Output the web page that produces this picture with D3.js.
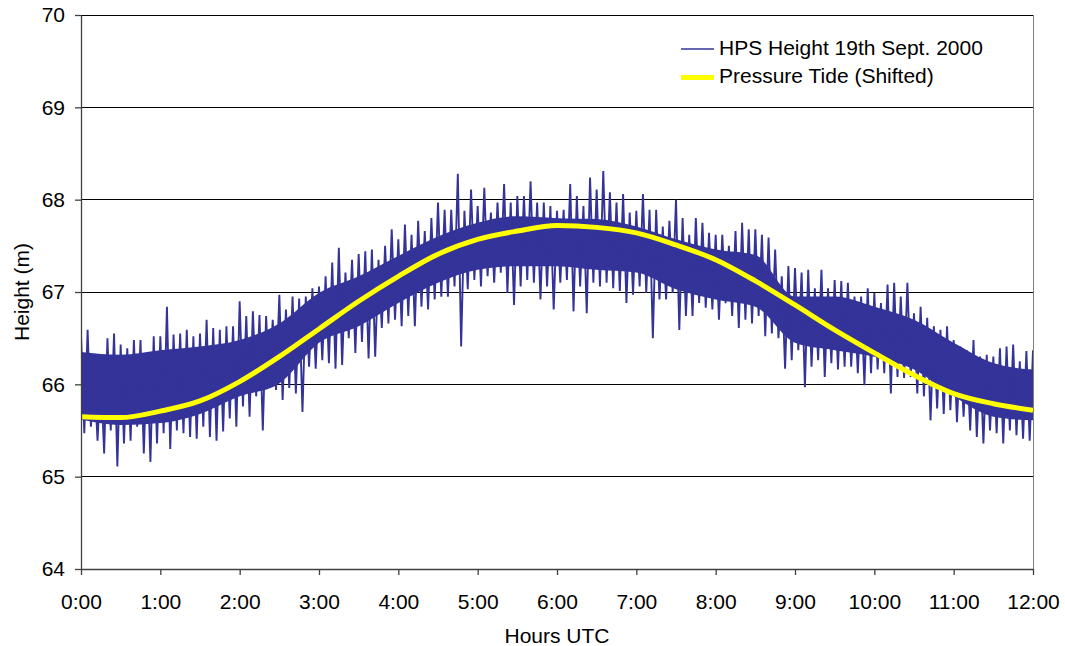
<!DOCTYPE html>
<html>
<head>
<meta charset="utf-8">
<script src="https://cdn.jsdelivr.net/npm/d3@7"></script>
<style>
  body { margin: 0; background: #fff; }
  svg { display: block; font-family: "Liberation Sans", Arial, sans-serif; }
</style>
</head>
<body>
<div id="chart"></div>
<script>
// HPS height trace: highest / lowest reading in each 5 minute slot, 0:00 .. 12:00
const hpsStep = 5;
const hpsHigh = [
  66.54, 66.59, 66.14, 66.14, 66.50, 66.55, 66.43, 66.39, 66.48, 66.48, 66.34, 66.52,
  66.52, 66.84, 66.54, 66.55, 66.59, 66.52, 66.55, 66.70, 66.61, 66.59, 66.63, 66.63,
  66.90, 66.74, 66.79, 66.75, 66.74, 66.70, 66.97, 66.81, 66.95, 66.93, 66.95, 67.04,
  67.06, 67.17, 67.32, 67.48, 67.21, 67.35, 67.41, 67.44, 67.46, 67.35, 67.50, 67.68,
  67.57, 67.73, 67.62, 67.77, 67.66, 67.80, 67.97, 67.89, 67.89, 68.28, 67.88, 68.11,
  67.93, 68.13, 67.86, 67.97, 68.17, 67.97, 68.04, 68.04, 68.20, 67.97, 67.97, 67.93,
  67.88, 67.89, 68.17, 68.04, 67.93, 68.24, 68.11, 68.31, 68.08, 67.97, 68.06, 67.86,
  67.88, 68.06, 67.89, 67.89, 67.71, 67.77, 68.00, 67.80, 67.62, 67.80, 67.75, 67.64,
  67.62, 67.62, 67.50, 67.66, 67.75, 67.68, 67.68, 67.62, 67.59, 67.46, 67.17, 67.28,
  67.26, 67.21, 67.24, 67.04, 67.24, 67.04, 67.13, 67.12, 67.10, 66.95, 66.95, 67.04,
  66.99, 66.88, 67.08, 67.10, 66.95, 67.10, 66.77, 66.84, 66.72, 66.63, 66.59, 66.63,
  66.48, 66.41, 66.37, 66.48, 66.30, 66.32, 66.30, 66.39, 66.41, 66.43, 66.25, 66.36,
  66.37
];
const hpsLow = [
  65.47, 65.54, 65.39, 65.25, 65.50, 65.11, 65.36, 65.39, 65.54, 65.25, 65.16, 65.36,
  65.47, 65.30, 65.50, 65.47, 65.43, 65.41, 65.54, 65.43, 65.39, 65.49, 65.63, 65.54,
  65.76, 65.65, 65.87, 65.50, 65.97, 65.94, 65.83, 65.96, 65.90, 65.70, 66.19, 66.17,
  66.26, 66.23, 66.17, 66.21, 66.50, 66.34, 66.46, 66.28, 66.30, 66.61, 66.66, 66.70,
  66.63, 66.74, 66.63, 66.84, 66.81, 66.92, 66.95, 66.95, 67.06, 66.41, 67.03, 67.13,
  67.06, 67.17, 67.10, 67.21, 66.99, 66.86, 67.06, 67.13, 67.10, 66.92, 67.06, 66.81,
  67.10, 67.13, 66.79, 67.06, 66.77, 67.10, 67.06, 67.10, 67.04, 67.01, 66.88, 66.97,
  67.06, 66.99, 66.50, 66.92, 66.92, 66.99, 66.59, 66.74, 66.74, 66.88, 66.83, 66.81,
  66.70, 66.88, 66.74, 66.61, 66.70, 66.66, 66.74, 66.52, 66.55, 66.50, 66.17, 66.26,
  66.37, 65.97, 66.19, 66.26, 66.08, 66.23, 66.16, 66.19, 66.19, 66.12, 65.99, 66.12,
  66.16, 66.12, 65.90, 66.08, 66.07, 66.08, 65.90, 65.87, 65.61, 65.74, 65.68, 65.72,
  65.59, 65.65, 65.50, 65.43, 65.36, 65.50, 65.47, 65.36, 65.50, 65.45, 65.41, 65.39,
  65.36
];

// solid (dense) part of the HPS trace, every 30 minutes
const coreStep = 30;
const coreHigh = [
  66.35, 66.32, 66.37, 66.41, 66.48, 66.66, 66.99, 67.17, 67.39, 67.60, 67.75, 67.82,
  67.80, 67.79, 67.71, 67.57, 67.46, 67.40, 66.95, 66.95, 66.84, 66.70, 66.45, 66.23,
  66.16
];
const coreLow = [
  65.62, 65.56, 65.58, 65.68, 65.87, 66.01, 66.45, 66.63, 66.88, 67.10, 67.24, 67.28,
  67.28, 67.24, 67.21, 67.03, 66.92, 66.84, 66.45, 66.37, 66.30, 66.16, 65.87, 65.65,
  65.61
];

// pressure tide (shifted), every 30 minutes
const tideStep = 30;
const tideValues = [
  65.65, 65.64, 65.71, 65.82, 66.03, 66.30, 66.60, 66.90, 67.17, 67.41, 67.57, 67.66,
  67.72, 67.70, 67.64, 67.51, 67.35, 67.12, 66.86, 66.59, 66.34, 66.10, 65.90, 65.79,
  65.72
];

// axes
const xTicks = [0, 60, 120, 180, 240, 300, 360, 420, 480, 540, 600, 660, 720];
const yTicks = [64, 65, 66, 67, 68, 69, 70];
const legendLabels = ["HPS Height 19th Sept. 2000", "Pressure Tide (Shifted)"];

const width = 1065;
const height = 646;
const margin = { top: 15, right: 32, bottom: 77, left: 81 };
const blue = "#333399";
const yellow = "#ffff00";
const fontSize = 21;

const svg = d3.select("#chart").append("svg")
  .attr("width", width)
  .attr("height", height);

const x = d3.scaleLinear().domain([0, 720]).range([margin.left, width - margin.right]);
const y = d3.scaleLinear().domain([64, 70]).range([height - margin.bottom, margin.top]);

svg.append("clipPath").attr("id", "plot-clip")
  .append("rect")
  .attr("x", x(0)).attr("y", y(70))
  .attr("width", x(720) - x(0)).attr("height", y(64) - y(70));

// horizontal gridlines
svg.append("g")
  .selectAll("line")
  .data(yTicks.filter(function (d) { return d > 64; }))
  .join("line")
  .attr("x1", x(0)).attr("x2", x(720))
  .attr("y1", function (d) { return y(d); })
  .attr("y2", function (d) { return y(d); })
  .attr("stroke", "#000")
  .attr("stroke-width", 1)
  .attr("shape-rendering", "crispEdges");

// right border of the plot area
svg.append("line")
  .attr("x1", x(720)).attr("x2", x(720))
  .attr("y1", y(70)).attr("y2", y(64))
  .attr("stroke", "#808080")
  .attr("shape-rendering", "crispEdges");

const plot = svg.append("g").attr("clip-path", "url(#plot-clip)");

// dense band of the HPS trace
const coreArea = d3.area()
  .x(function (d, i) { return x(i * coreStep); })
  .y0(function (d, i) { return y(coreLow[i]); })
  .y1(function (d) { return y(d); })
  .curve(d3.curveMonotoneX);

plot.append("path")
  .datum(coreHigh)
  .attr("d", coreArea)
  .attr("fill", blue);

// spiky trace: high then low in each slot
const trace = [];
hpsHigh.forEach(function (v, i) {
  trace.push([i * hpsStep, v]);
  trace.push([i * hpsStep + hpsStep / 2, hpsLow[i]]);
});

plot.append("path")
  .datum(trace)
  .attr("d", d3.line()
    .x(function (d) { return x(d[0]); })
    .y(function (d) { return y(d[1]); }))
  .attr("fill", "none")
  .attr("stroke", blue)
  .attr("stroke-width", 1.9)
  .attr("stroke-linejoin", "bevel");

// pressure tide
plot.append("path")
  .datum(tideValues)
  .attr("d", d3.line()
    .x(function (d, i) { return x(i * tideStep); })
    .y(function (d) { return y(d); })
    .curve(d3.curveMonotoneX))
  .attr("fill", "none")
  .attr("stroke", yellow)
  .attr("stroke-width", 5);

// y axis
const yAxis = svg.append("g")
  .attr("transform", "translate(" + x(0) + ",0)")
  .call(d3.axisLeft(y).tickValues(yTicks).tickSize(6).tickSizeOuter(0).tickPadding(10)
    .tickFormat(d3.format("d")));

// x axis
const xAxis = svg.append("g")
  .attr("transform", "translate(0," + y(64) + ")")
  .call(d3.axisBottom(x).tickValues(xTicks).tickSize(6).tickSizeOuter(0).tickPadding(19)
    .tickFormat(function (d) { return (d / 60) + ":00"; }));

[yAxis, xAxis].forEach(function (ax) {
  ax.attr("font-size", fontSize).attr("font-family", null);
  ax.selectAll("path, line").attr("stroke", "#404040").attr("stroke-width", 1.3);
  ax.selectAll("text").attr("fill", "#000");
});

// axis titles
svg.append("text")
  .attr("transform", "translate(29," + (y(67)) + ") rotate(-90)")
  .attr("text-anchor", "middle")
  .attr("font-size", fontSize)
  .text("Height (m)");

svg.append("text")
  .attr("x", (x(0) + x(720)) / 2)
  .attr("y", 643)
  .attr("text-anchor", "middle")
  .attr("font-size", fontSize)
  .text("Hours UTC");

// legend
const legend = svg.append("g").attr("transform", "translate(681,49)");
const legendStyles = [
  { color: blue, width: 1.4 },
  { color: yellow, width: 5 }
];

legend.selectAll("g")
  .data(legendLabels)
  .join("g")
  .attr("transform", function (d, i) { return "translate(0," + i * 28.5 + ")"; })
  .each(function (d, i) {
    const g = d3.select(this);
    g.append("line")
      .attr("x1", 0).attr("x2", 33)
      .attr("stroke", legendStyles[i].color)
      .attr("stroke-width", legendStyles[i].width);
    g.append("text")
      .attr("x", 38)
      .attr("y", 5.5)
      .attr("font-size", fontSize)
      .text(d);
  });
</script>
</body>
</html>
